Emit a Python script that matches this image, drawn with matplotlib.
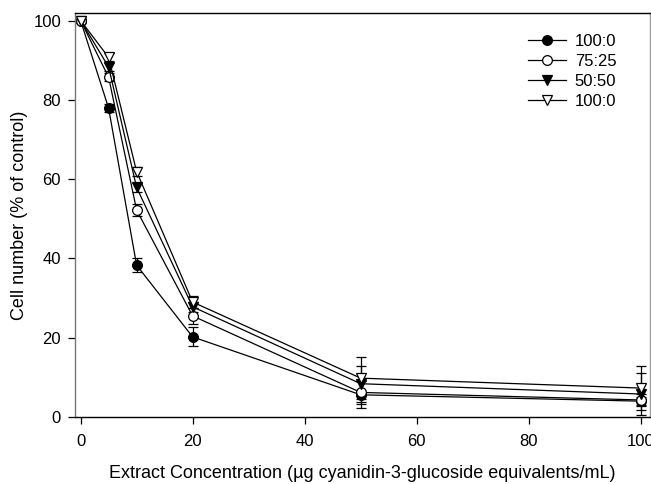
import matplotlib.pyplot as plt
from matplotlib.lines import Line2D

plt.rcParams['font.family'] = ['Liberation Sans', 'DejaVu Sans']

conc = [0, 5, 10, 20, 50, 100]
labels = ["100:0", "75:25", "50:50", "100:0"]

s1 = [100, 77.9, 38.3, 20.2, 5.6, 4.0]
s2 = [100, 85.7, 52.2, 25.5, 6.2, 4.3]
s3 = [100, 88.3, 57.9, 27.8, 8.4, 5.8]
s4 = [100, 90.7, 61.9, 29.0, 9.8, 7.3]

e1 = [0.5, 1.0, 1.8, 2.4, 3.4, 1.0]
e2 = [0.5, 1.0, 1.5, 2.0, 3.0, 1.5]
e3 = [0.5, 1.0, 1.2, 1.3, 4.5, 5.2]
e4 = [0.5, 1.0, 1.2, 1.4, 5.3, 5.6]

series = [s1, s2, s3, s4]
errors = [e1, e2, e3, e4]
markers = ['o', 'o', 'v', 'v']
faces = ['black', 'white', 'black', 'white']

fig = plt.figure(figsize=(6.51, 4.84), dpi=100)
ax = fig.add_axes([0.1152, 0.1384, 0.8828, 0.8348])

handles = []
for y, e, m, fc in zip(series, errors, markers, faces):
    ax.errorbar(conc, y, yerr=e, color='black', lw=0.9, marker=m, ms=7,
                mfc=fc, mec='black', mew=0.9, capsize=3.5, elinewidth=0.9,
                capthick=0.9)
    handles.append(Line2D([], [], color='black', lw=0.9, marker=m, ms=7,
                          mfc=fc, mec='black', mew=0.9))

ax.set_xlim(-1.0, 101.6)
ax.set_ylim(0, 101.9)
ax.set_xticks([0, 20, 40, 60, 80, 100])
ax.set_yticks([0, 20, 40, 60, 80, 100])
ax.tick_params(direction='out', length=5, width=0.9, labelsize=12)
ax.tick_params(axis='x', pad=7)
ax.tick_params(axis='y', pad=5)
ax.spines['left'].set_color('#777777')
ax.spines['right'].set_color('#999999')
for s in ax.spines.values():
    s.set_linewidth(1.0)

ax.set_xlabel("Extract Concentration (µg cyanidin-3-glucoside equivalents/mL)",
              fontsize=13, labelpad=12)
ax.set_ylabel("Cell number (% of control)", fontsize=13, labelpad=4)

ax.legend(handles=handles, labels=labels, loc='upper left',
          bbox_to_anchor=(528 / 651, 1 - 34 / 484),
          bbox_transform=fig.transFigure, frameon=False, fontsize=12,
          handlelength=2.3, handletextpad=0.5, labelspacing=0.3,
          borderaxespad=0, borderpad=0)
plt.savefig("out.png", dpi=100)
